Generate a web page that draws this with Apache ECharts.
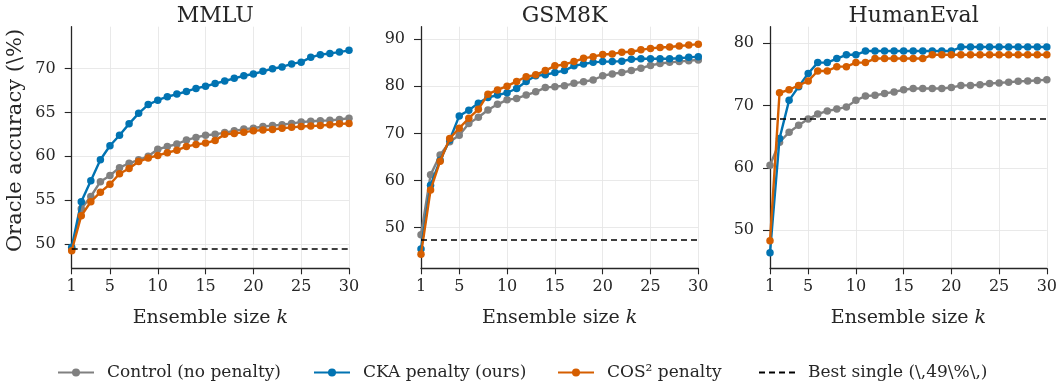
<!DOCTYPE html>
<html lang="en">
<head>
    <meta charset="UTF-8">
    <title></title>
    <style>
        * {
            margin: 0;
            padding: 0;
            box-sizing: border-box;
        }

        html, body {
            width: 1060px;
            height: 385px;
            background: #ffffff;
            overflow: hidden;
        }

        #chart {
            width: 1060px;
            height: 385px;
        }
    </style>
    <script type="text/javascript" src="https://cdn.jsdelivr.net/npm/echarts@6/dist/echarts.min.js"></script>
</head>
<body>
<div id="chart"></div>
<script type="text/javascript">
    var sizes = [1, 2, 3, 4, 5, 6, 7, 8, 9, 10, 11, 12, 13, 14, 15, 16, 17, 18, 19, 20, 21, 22, 23, 24, 25, 26, 27, 28, 29, 30]
    var titles = ['MMLU', 'GSM8K', 'HumanEval']

    // MMLU
    var mmluControl = [49.4, 54.0, 55.4, 57.1, 57.8, 58.7, 59.2, 59.6, 60.0, 60.8, 61.1, 61.4, 61.85, 62.15, 62.4, 62.5, 62.7, 62.9, 63.1, 63.2, 63.4, 63.5, 63.6, 63.75, 63.9, 64.0, 64.05, 64.1, 64.2, 64.35]
    var mmluCka = [49.6, 54.8, 57.2, 59.6, 61.2, 62.4, 63.7, 64.9, 65.9, 66.4, 66.8, 67.1, 67.4, 67.75, 68.0, 68.3, 68.6, 68.9, 69.2, 69.4, 69.7, 70.0, 70.2, 70.55, 70.75, 71.3, 71.6, 71.75, 71.9, 72.1]
    var mmluCos = [49.2, 53.2, 54.8, 55.9, 56.8, 58.0, 58.6, 59.4, 59.8, 60.1, 60.4, 60.7, 61.1, 61.35, 61.5, 61.8, 62.5, 62.6, 62.75, 62.9, 63.0, 63.05, 63.2, 63.3, 63.4, 63.45, 63.5, 63.6, 63.7, 63.75]

    // GSM8K
    var gsmControl = [48.5, 61.2, 65.4, 68.2, 69.6, 72.1, 73.4, 74.95, 76.15, 77.1, 77.4, 78.1, 78.8, 79.7, 79.9, 80.1, 80.6, 80.95, 81.3, 82.2, 82.6, 82.9, 83.3, 83.8, 84.4, 84.8, 85.05, 85.2, 85.4, 85.55]
    var gsmCka = [45.5, 59.0, 64.3, 68.6, 73.7, 74.9, 76.4, 77.6, 78.1, 78.6, 79.5, 81.0, 82.2, 82.4, 82.9, 83.3, 84.3, 84.7, 85.05, 85.2, 85.2, 85.3, 85.7, 85.8, 85.8, 85.8, 85.8, 85.9, 86.1, 86.25]
    var gsmCos = [44.4, 58.0, 64.1, 68.9, 71.1, 73.2, 75.1, 78.3, 79.2, 80.0, 81.0, 82.0, 82.4, 83.3, 84.3, 84.6, 85.2, 85.9, 86.25, 86.7, 86.8, 87.2, 87.3, 87.7, 88.0, 88.2, 88.3, 88.5, 88.7, 88.9]

    // HumanEval
    var heControl = [60.4, 64.1, 65.7, 66.8, 67.8, 68.6, 69.1, 69.4, 69.75, 70.8, 71.5, 71.6, 71.9, 72.15, 72.5, 72.7, 72.7, 72.7, 72.7, 72.85, 73.2, 73.2, 73.3, 73.5, 73.6, 73.7, 73.85, 73.9, 74.0, 74.1]
    var heCka = [46.4, 64.7, 70.8, 73.0, 75.1, 76.85, 76.85, 77.5, 78.1, 78.1, 78.7, 78.7, 78.7, 78.7, 78.7, 78.7, 78.7, 78.7, 78.7, 78.7, 79.35, 79.35, 79.35, 79.35, 79.35, 79.35, 79.35, 79.35, 79.35, 79.35]
    var heCos = [48.3, 72.0, 72.5, 73.2, 73.9, 75.5, 75.5, 76.2, 76.2, 76.85, 76.85, 77.5, 77.5, 77.5, 77.5, 77.5, 77.5, 78.1, 78.1, 78.1, 78.1, 78.1, 78.1, 78.1, 78.1, 78.1, 78.1, 78.1, 78.1, 78.1]

    var bestSingle = [49.4, 47.4, 67.8]

    var yRanges = [[47.2, 74.8], [41.4, 92.6], [43.9, 82.6]]
    var yTicks = [[50, 55, 60, 65, 70], [50, 60, 70, 80, 90], [50, 60, 70, 80]]
    var xTicks = [1, 5, 10, 15, 20, 25, 30]

    var names = ['Control (no penalty)', 'CKA penalty (ours)', 'COS\u00b2 penalty', 'Best single (\\,49\\%\\,)']
    var colors = ['#808080', '#0173B2', '#D55E00', '#000000']

    var panels = [
        [mmluControl, mmluCka, mmluCos],
        [gsmControl, gsmCka, gsmCos],
        [heControl, heCka, heCos]
    ]

    var font = 'DejaVu Serif'
    var ink = '#262626'
    var gridLefts = [71.7, 421, 770]

    function pairs(vals) {
        return sizes.map(function (k, i) {
            return [k, vals[i]]
        })
    }

    var grids = [], xAxes = [], yAxes = [], series = [], titleList = []
    gridLefts.forEach(function (left, p) {
        grids.push({left: left, top: 26.7, width: 277.3, height: 241.6})
        titleList.push({
            text: titles[p],
            left: left + 138.6,
            top: 0,
            textAlign: 'center',
            textStyle: {fontFamily: font, fontSize: 22, fontWeight: 'normal', color: ink}
        })
        xAxes.push({
            type: 'value',
            gridIndex: p,
            min: 1,
            max: 30,
            name: 'Ensemble size {i|k}',
            nameLocation: 'middle',
            nameGap: 40,
            nameTextStyle: {
                fontFamily: font, fontSize: 19, color: ink,
                rich: {i: {fontFamily: font, fontSize: 19, fontStyle: 'italic', color: ink}}
            },
            axisLine: {lineStyle: {color: ink, width: 1.3}},
            axisTick: {show: true, length: 6, customValues: xTicks, lineStyle: {color: ink, width: 1.1}},
            axisLabel: {customValues: xTicks, fontFamily: font, fontSize: 16, color: ink, margin: 11},
            splitLine: {show: true, lineStyle: {color: '#e6e6e6', width: 0.9}}
        })
        yAxes.push({
            type: 'value',
            gridIndex: p,
            min: yRanges[p][0],
            max: yRanges[p][1],
            name: p === 0 ? 'Oracle accuracy (\\%)' : '',
            nameLocation: 'middle',
            nameGap: 46,
            nameTextStyle: {fontFamily: font, fontSize: 21, color: ink, padding: [0, 0, 0, 14]},
            axisLine: {show: true, lineStyle: {color: ink, width: 1.3}},
            axisTick: {show: true, length: 7, customValues: yTicks[p], lineStyle: {color: ink, width: 1.1}},
            axisLabel: {customValues: yTicks[p], fontFamily: font, fontSize: 16, color: ink, margin: 16},
            splitLine: {show: true, lineStyle: {color: '#e6e6e6', width: 0.9}}
        })
        panels[p].forEach(function (vals, s) {
            series.push({
                type: 'line',
                name: names[s],
                xAxisIndex: p,
                yAxisIndex: p,
                data: pairs(vals),
                symbol: 'circle',
                symbolSize: 7.5,
                lineStyle: {color: colors[s], width: 2.4},
                itemStyle: {color: colors[s]},
                emphasis: {disabled: true},
                animation: false,
                z: 3 + s
            })
        })
        series.push({
            type: 'line',
            name: names[3],
            xAxisIndex: p,
            yAxisIndex: p,
            data: [[1, bestSingle[p]], [30, bestSingle[p]]],
            symbol: 'none',
            lineStyle: {color: '#000000', width: 1.5, type: [6, 4]},
            itemStyle: {color: '#000000'},
            animation: false,
            z: 7
        })
    })

    var legendLefts = [57, 313, 557, 758]
    var legends = names.map(function (n, i) {
        var item = {name: n}
        if (i === 3) {
            item.itemStyle = {opacity: 0}
        }
        return {
            data: [item],
            left: legendLefts[i],
            top: 364,
            padding: 0,
            itemWidth: 36,
            itemHeight: 10,
            itemGap: 0,
            textStyle: {fontFamily: font, fontSize: 17, color: ink, padding: [0, 0, 0, 8]},
            selectedMode: false
        }
    })

    var myChart = echarts.init(document.getElementById('chart'))
    myChart.setOption({
        animation: false,
        title: titleList,
        grid: grids,
        xAxis: xAxes,
        yAxis: yAxes,
        legend: legends,
        series: series
    })
</script>
</body>
</html>
